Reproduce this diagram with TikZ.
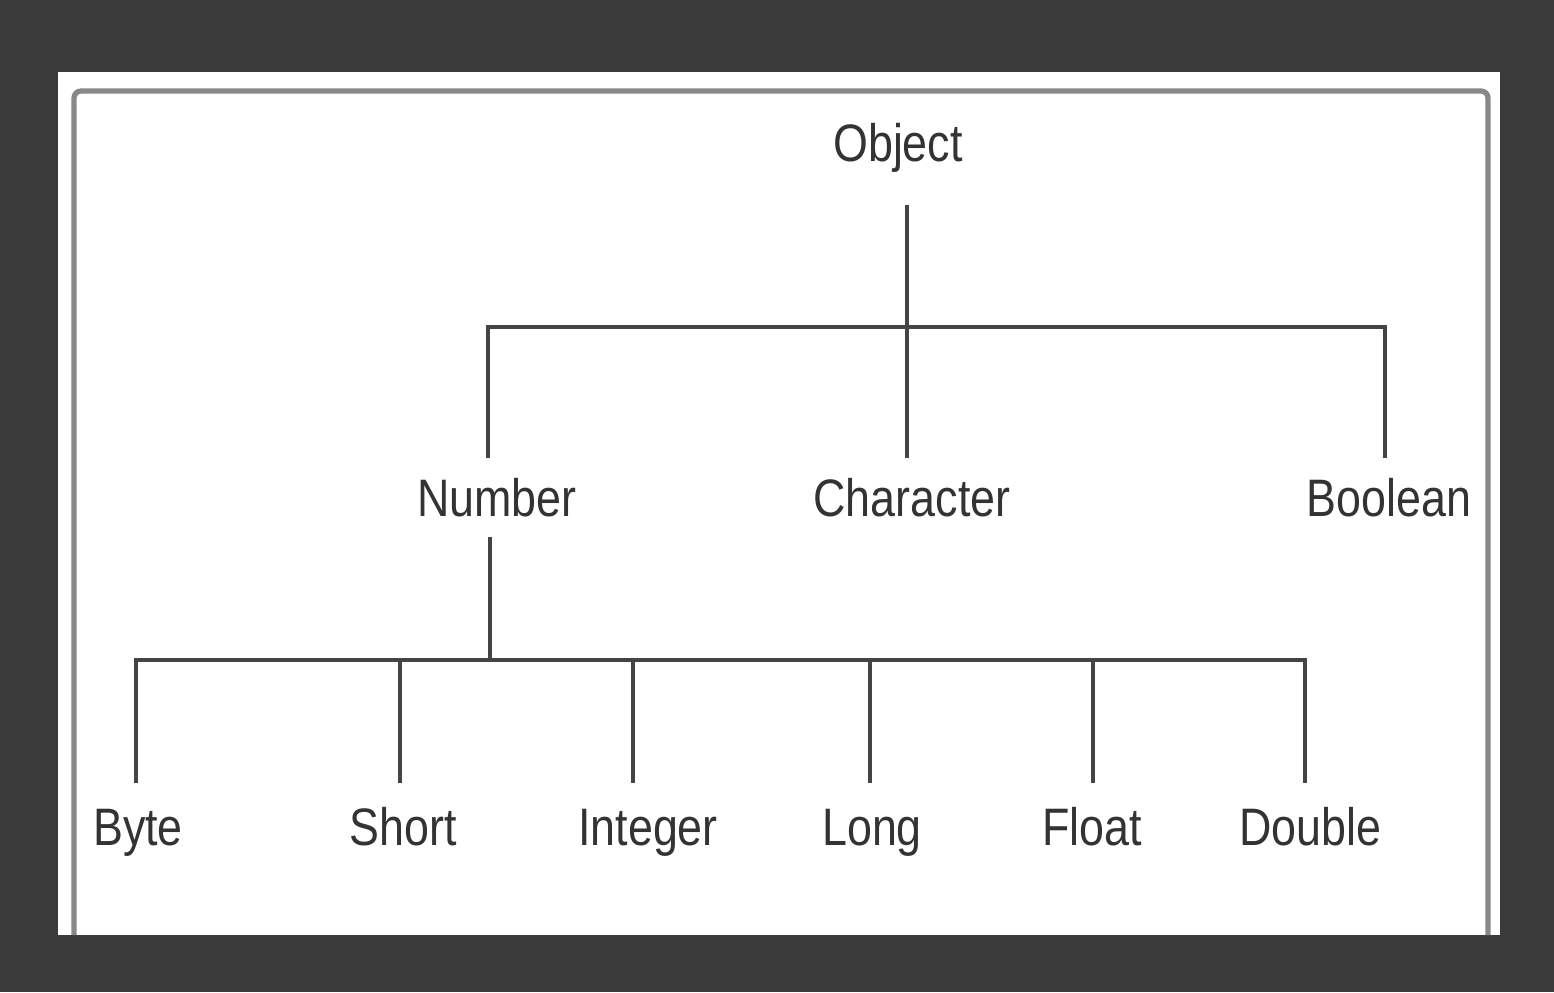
\documentclass[tikz,border=0pt]{standalone}
\usepackage{fontspec}
\setmainfont{Liberation Sans}[FakeStretch=0.85]
\definecolor{screen}{HTML}{3B3B3B}
\definecolor{frame}{HTML}{888888}
\definecolor{wire}{HTML}{444444}
\definecolor{txt}{HTML}{333333}

\begin{document}
\begin{tikzpicture}[
    classname/.style={text=txt, font=\fontsize{15}{18}\selectfont, inner sep=0pt,
      text height=0.39cm, text depth=0pt, outer ysep=0.2cm},
    leafname/.style={classname, outer ysep=0.24cm},
    branch/.style={draw=wire, line width=1.2pt},
  ]
  % screen and page
  \fill[screen] (0,0) rectangle (15.54,9.92);
  \fill[white] (0.58,0.57) rectangle (15.00,9.20);
  \draw[frame, line width=1.5pt, rounded corners=2pt] (0.74,0.57) -- (0.74,9.01) -- (14.88,9.01) -- (14.88,0.57);

  \node[classname, outer ysep=0.43cm] (nodeObject) at (8.98,8.50) {Object};
  \node[classname] (nodeNumber) at (4.97,4.95) {Number};
  \node[classname] (nodeCharacter) at (9.12,4.95) {Character};
  \node[classname] (nodeBoolean) at (13.89,4.95) {Boolean};
  \node[leafname] (nodeByte) at (1.38,1.66) {Byte};
  \node[leafname] (nodeShort) at (4.03,1.66) {Short};
  \node[leafname] (nodeInteger) at (6.48,1.66) {Integer};
  \node[leafname] (nodeLong) at (8.72,1.66) {Long};
  \node[leafname] (nodeFloat) at (10.92,1.66) {Float};
  \node[leafname] (nodeDouble) at (13.10,1.66) {Double};

  \coordinate (hubTop) at (9.07,6.65);
  \coordinate (hubNumber) at (4.90,3.32);

  \draw[branch] (nodeObject.south -| hubTop) -- (nodeCharacter.north -| hubTop);
  \draw[branch] (nodeNumber.north -| 4.88,0) |- (hubTop) -| (nodeBoolean.north -| 13.85,0);
  \draw[branch] (nodeNumber.south -| hubNumber) -- (hubNumber);
  \draw[branch] (nodeByte.north -| 1.36,0) |- (hubNumber) -| (nodeDouble.north -| 13.05,0);
  \foreach \n/\x in {Short/4.00, Integer/6.33, Long/8.70, Float/10.93}
    \draw[branch] (hubNumber -| \x,0) -- (node\n.north -| \x,0);
\end{tikzpicture}
\end{document}
